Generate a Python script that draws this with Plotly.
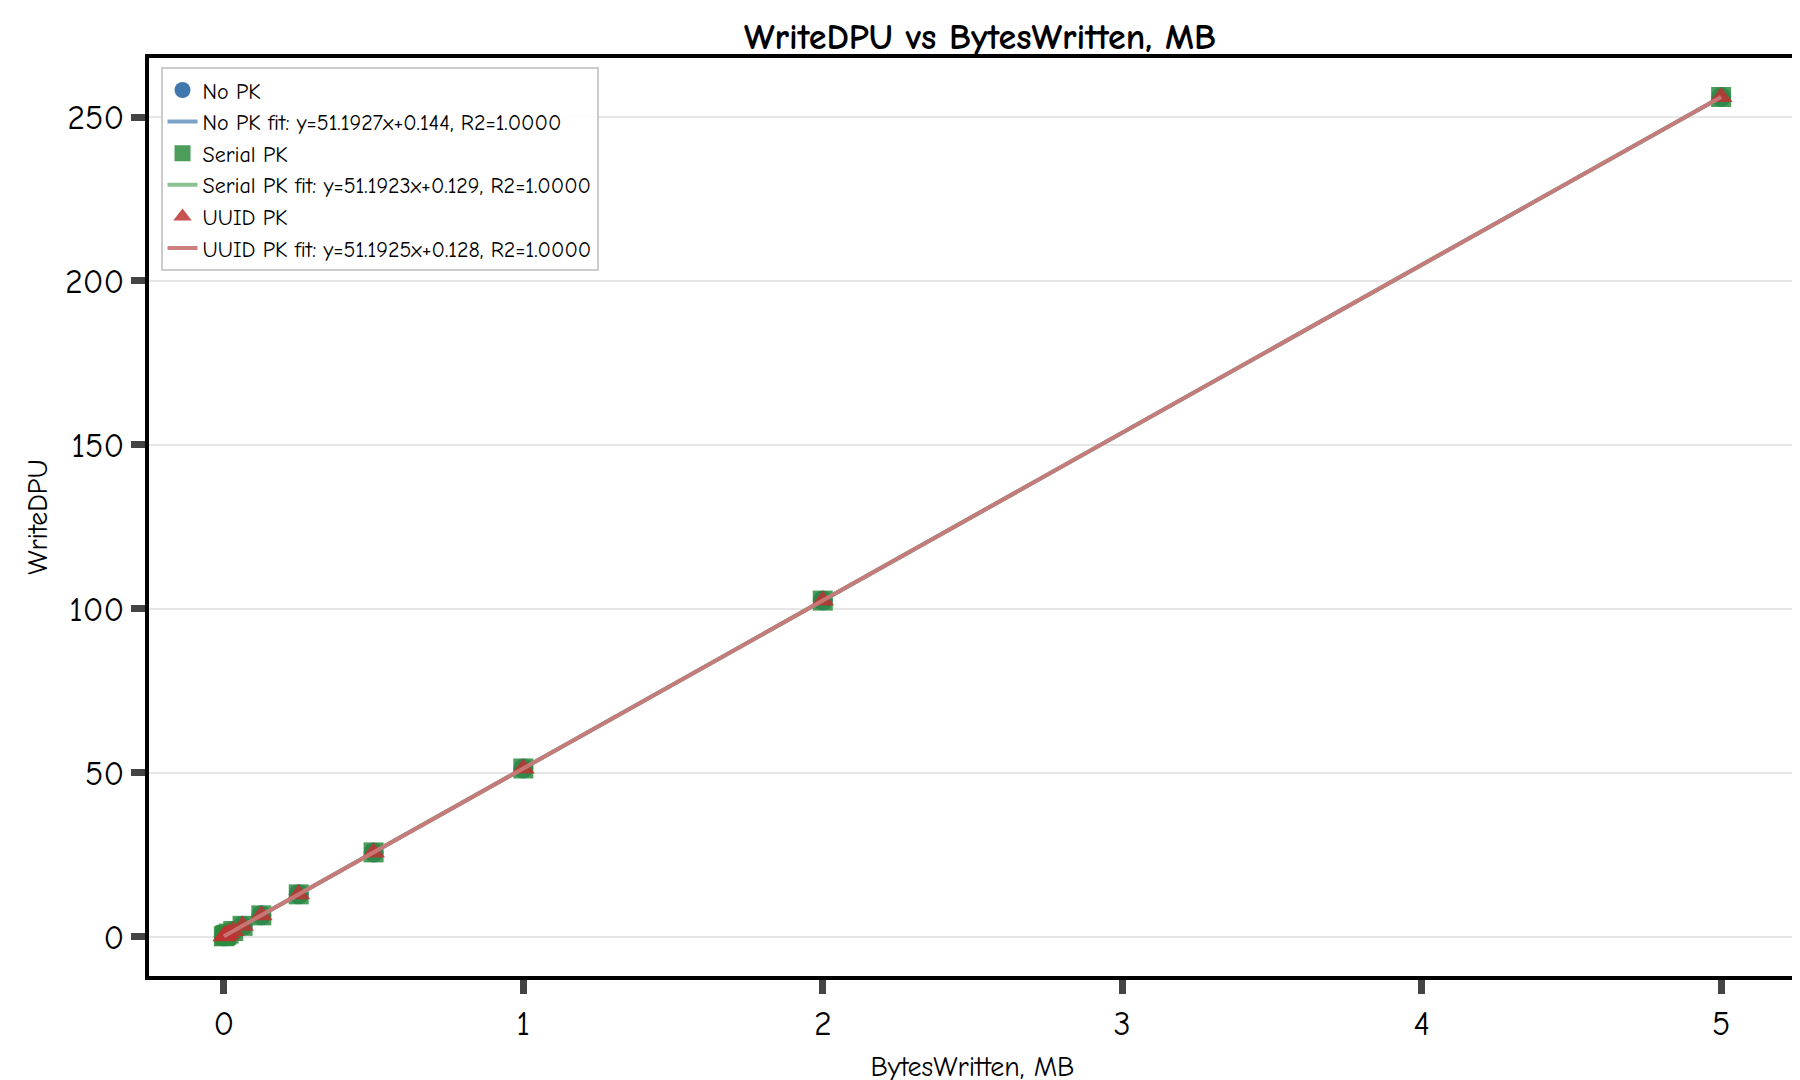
import plotly.graph_objects as go

x_vals = [0.0, 0.0039, 0.0078, 0.0156, 0.03125, 0.0625, 0.125, 0.25, 0.5, 1.0, 2.0, 5.0]
nopk_y = [0.1, 0.35, 0.55, 0.95, 1.75, 3.3, 6.5, 12.9, 25.7, 51.3, 102.5, 256.1]
serial_y = [0.1, 0.33, 0.53, 0.93, 1.73, 3.3, 6.5, 12.9, 25.7, 51.3, 102.5, 256.1]
uuid_y = [0.1, 0.33, 0.53, 0.93, 1.73, 3.3, 6.5, 12.9, 25.7, 51.3, 102.5, 256.1]
fits = {"No PK": (51.1927, 0.144), "Serial PK": (51.1923, 0.129), "UUID PK": (51.1925, 0.128)}

FONT = "Comic Neue, Comic Sans MS, Noto Sans, sans-serif"
series = [
    ("No PK", nopk_y, "circle", "rgba(31,96,160,0.85)", "rgba(90,140,185,0.8)"),
    ("Serial PK", serial_y, "square", "rgba(44,140,60,0.85)", "rgba(110,180,120,0.8)"),
    ("UUID PK", uuid_y, "triangle-up", "rgba(190,50,50,0.85)", "rgba(200,120,120,0.95)"),
]
fig = go.Figure()
for name, ys, sym, mc, lc in series:
    a, b = fits[name]
    fig.add_trace(go.Scatter(x=x_vals, y=ys, mode="markers", name=name,
                             marker=dict(symbol=sym, size=20, color=mc)))
    fig.add_trace(go.Scatter(x=x_vals, y=[a * v + b for v in x_vals], mode="lines",
                             name=f"{name} fit: y={a:.4f}x+{b:.3f}, R2=1.0000",
                             line=dict(color=lc, width=4)))

fig.update_layout(
    width=1800, height=1080, plot_bgcolor="white", paper_bgcolor="white",
    font=dict(family=FONT, size=22, color="black"),
    title=dict(text="<b>WriteDPU vs BytesWritten, MB</b>", x=0.54, y=0.985, font=dict(size=36)),
    margin=dict(l=141, r=8, t=50, b=112),
    legend=dict(x=0.007, y=0.99, xanchor="left", yanchor="top", bgcolor="rgba(255,255,255,0.9)",
                bordercolor="#cccccc", borderwidth=2, font=dict(size=22), tracegroupgap=0),
    xaxis=dict(range=[-0.25, 5.25], tickvals=[0, 1, 2, 3, 4, 5], showgrid=False, zeroline=False,
               showline=True, linewidth=4, linecolor="black", mirror=True,
               ticks="outside", ticklen=14, tickwidth=7, tickfont=dict(size=34),
               title=dict(text="BytesWritten, MB", font=dict(size=28))),
    yaxis=dict(range=[-12, 268], tickvals=[0, 50, 100, 150, 200, 250], showgrid=True,
               gridcolor="#e6e6e6", gridwidth=2, zeroline=False,
               showline=True, linewidth=4, linecolor="black", mirror=True,
               ticks="outside", ticklen=14, tickwidth=7, tickfont=dict(size=34),
               title=dict(text="WriteDPU", font=dict(size=28), standoff=10)),
)
fig.write_html("out.html")
